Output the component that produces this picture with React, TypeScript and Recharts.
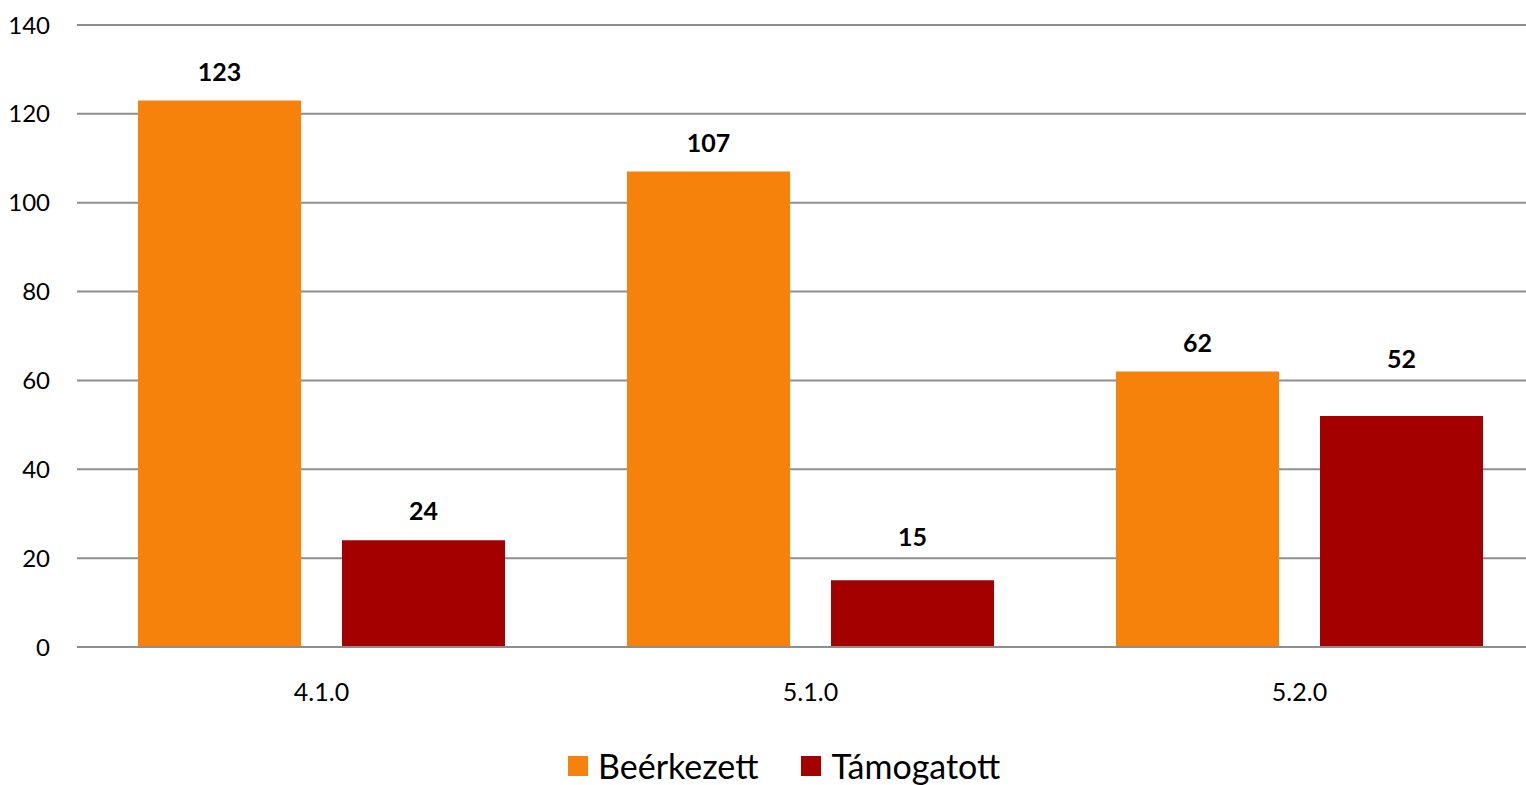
import { BarChart, Bar, XAxis, YAxis, CartesianGrid, LabelList, Legend } from "recharts";

const categories = ["4.1.0", "5.1.0", "5.2.0"];
const beerkezett = [123, 107, 62];
const tamogatott = [24, 15, 52];
const yTicks = [0, 20, 40, 60, 80, 100, 120, 140];

const seriesInfo = [
  { key: "beerkezett", name: "Beérkezett", color: "#F6820C", labelGap: [20, 20, 20] },
  { key: "tamogatott", name: "Támogatott", color: "#A50000", labelGap: [20, 34, 48] },
];

const data = categories.map((c, i) => ({
  cat: c,
  beerkezett: beerkezett[i],
  tamogatott: tamogatott[i],
}));

const FONT = "Lato, 'Open Sans', sans-serif";
const GRID = "#8e8e8e";

const renderLegend = () => (
  <div style={{ display: "flex", alignItems: "center", fontFamily: FONT, fontSize: 34, lineHeight: "40px", color: "#000" }}>
    {seriesInfo.map((s, i) => (
      <span key={s.key} style={{ display: "flex", alignItems: "center", marginRight: i === 0 ? 43 : 0 }}>
        <span style={{ display: "inline-block", width: 20, height: 20, background: s.color, marginRight: 10 }} />
        {s.name}
      </span>
    ))}
  </div>
);

// value label above the bar; Excel-style placement varies a little per bar
const makeLabel = (gaps: number[]) => (props: any) => {
  const { x, y, width, value, index } = props;
  return (
    <text
      x={x + width / 2}
      y={y - gaps[index]}
      textAnchor="middle"
      fontSize={25}
      fontWeight={700}
      fill="#000"
      fontFamily={FONT}
    >
      {value}
    </text>
  );
};

export default function App() {
  return (
    <div style={{ position: "fixed", left: 0, top: 0, width: 1526, height: 785, overflow: "hidden", background: "#fff" }}>
      <BarChart
        width={1544}
        height={785}
        data={data}
        margin={{ top: 25, right: 0, bottom: 108, left: 0 }}
        barSize={163}
        barGap={41}
      >
        <CartesianGrid vertical={false} stroke={GRID} strokeWidth={2} />
        <XAxis
          dataKey="cat"
          axisLine={{ stroke: GRID, strokeWidth: 2 }}
          tickLine={false}
          tickSize={0}
          tickMargin={36}
          tick={{ fontSize: 25, fill: "#000", fontFamily: FONT }}
        />
        <YAxis
          domain={[0, 140]}
          ticks={yTicks}
          width={77}
          axisLine={false}
          tickLine={false}
          tickSize={0}
          tickMargin={27}
          tick={{ fontSize: 24, fill: "#000", fontFamily: FONT }}
        />
        <Legend
          verticalAlign="middle"
          align="center"
          content={renderLegend}
          wrapperStyle={{ top: 746, left: 568, width: "auto" }}
        />
        {seriesInfo.map((s) => (
          <Bar key={s.key} dataKey={s.key} name={s.name} fill={s.color} isAnimationActive={false}>
            <LabelList dataKey={s.key} content={makeLabel(s.labelGap)} />
          </Bar>
        ))}
      </BarChart>
    </div>
  );
}
